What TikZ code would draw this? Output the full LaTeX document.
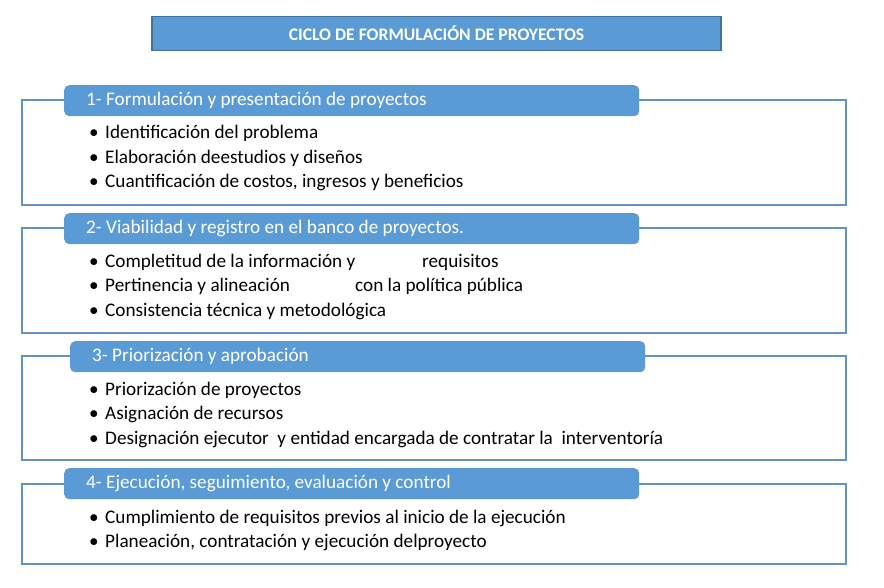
\documentclass[tikz,border=0pt]{standalone}
\usepackage{fontspec}
\setmainfont{Carlito}
\definecolor{hdr}{HTML}{5B9BD5}
\definecolor{framec}{HTML}{6592C0}
\definecolor{tborder}{HTML}{41719C}
\newcommand{\bul}{\makebox[16pt][l]{\textbullet}}
\begin{document}
\begin{tikzpicture}[x=1pt,y=-1pt,
  titlebox/.style={fill=hdr,draw=tborder,line width=1.6pt,minimum width=569pt,minimum height=34pt,inner sep=0pt,text=white,font=\fontsize{17.6}{19}\selectfont\bfseries},
  hdrbox/.style={fill=hdr,rounded corners=5pt,anchor=north west,minimum height=31pt,inner xsep=22pt,inner ysep=0pt,text width=531pt,align=flush left,text=white,font=\fontsize{19.2}{21}\selectfont},
  outline/.style={draw=framec,line width=2pt},
  bodyline/.style={anchor=base west,inner sep=0pt,font=\fontsize{19.2}{21}\selectfont}
]
\useasboundingbox (0,0) rectangle (884,587);
\fill[white] (0,0) rectangle (884,587);

\node[titlebox] (title) at (436.5,33.5) {CICLO DE FORMULACIÓN DE PROYECTOS};

% block 1
\draw[outline] (22,100) rectangle (846,205);
\node[hdrbox] (h1) at (64,85) {1- Formulación y presentación de proyectos};
\node[bodyline] (l1a) at (89,138.5) {\bul Identificación del problema};
\node[bodyline] (l1b) at (89,163) {\bul Elaboración deestudios y diseños};
\node[bodyline] (l1c) at (89,187.5) {\bul Cuantificación de costos, ingresos y beneficios};

% block 2
\draw[outline] (22,228) rectangle (846,333);
\node[hdrbox] (h2) at (64,213) {2- Viabilidad y registro en el banco de proyectos.};
\node[bodyline] (l2a) at (89,267) {\bul \makebox[317pt][l]{Completitud de la información y}requisitos};
\node[bodyline] (l2b) at (89,291.5) {\bul \makebox[250pt][l]{Pertinencia y alineación}con la política pública};
\node[bodyline] (l2c) at (89,316) {\bul Consistencia técnica y metodológica};

% block 3
\draw[outline] (22,356) rectangle (846,460);
\node[hdrbox] (h3) at (70,341) {3- Priorización y aprobación};
\node[bodyline] (l3a) at (89,395) {\bul Priorización de proyectos};
\node[bodyline] (l3b) at (89,419.5) {\bul Asignación de recursos};
\node[bodyline] (l3c) at (89,444) {\bul Designación ejecutor\ \ y entidad encargada de contratar la\ \ interventoría};

% block 4
\draw[outline] (22,484) rectangle (846,564);
\node[hdrbox] (h4) at (64,468) {4- Ejecución, seguimiento, evaluación y control};
\node[bodyline] (l4a) at (89,523) {\bul Cumplimiento de requisitos previos al inicio de la ejecución};
\node[bodyline] (l4b) at (89,547.5) {\bul Planeación, contratación y ejecución delproyecto};
\end{tikzpicture}
\end{document}
